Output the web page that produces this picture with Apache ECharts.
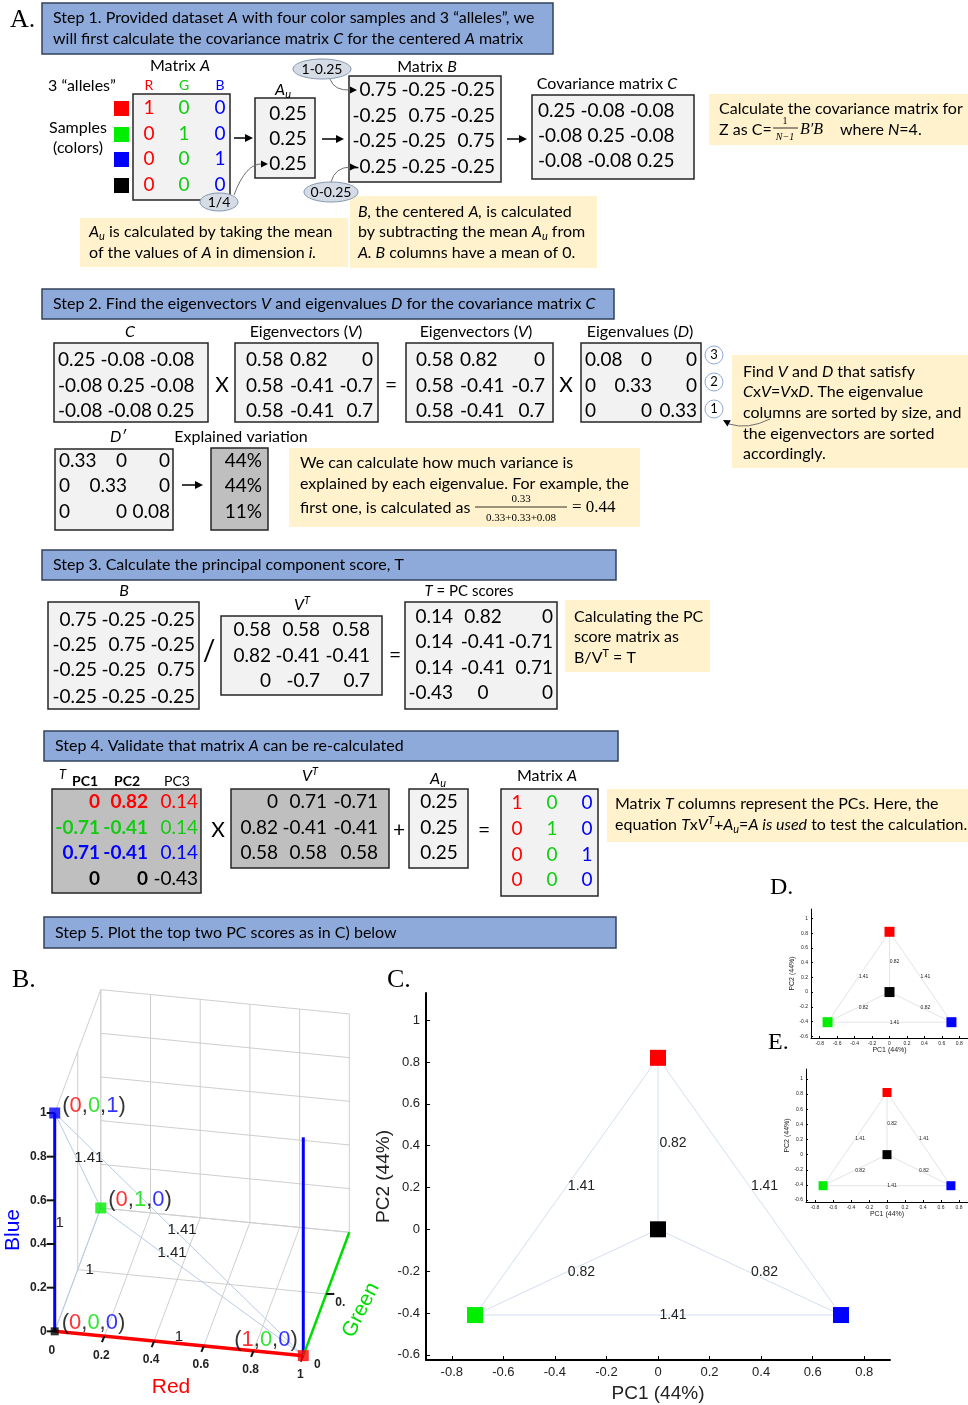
<!DOCTYPE html>
<html><head><meta charset="utf-8">
<script src="https://cdn.jsdelivr.net/npm/echarts@6/dist/echarts.min.js"></script>
<style>html,body{margin:0;padding:0;background:#fff}#c{width:968px;height:1405px}</style>
</head><body><div id="c"></div>
<script>
// ---------------- DATA ----------------
const alleles = ['R','G','B'];
const matrixA = [[1,0,0],[0,1,0],[0,0,1],[0,0,0]];
const meanAu = ['0.25','0.25','0.25'];
const matrixB = [['0.75','-0.25','-0.25'],['-0.25','0.75','-0.25'],['-0.25','-0.25','0.75'],['-0.25','-0.25','-0.25']];
const covC = [['0.25','-0.08','-0.08'],['-0.08','0.25','-0.08'],['-0.08','-0.08','0.25']];
const eigV = [['0.58','0.82','0'],['0.58','-0.41','-0.7'],['0.58','-0.41','0.7']];
const eigD = [['0.08','0','0'],['0','0.33','0'],['0','0','0.33']];
const eigOrder = ['3','2','1'];
const eigDsorted = [['0.33','0','0'],['0','0.33','0'],['0','0','0.08']];
const explained = ['44%','44%','11%'];
const VT = [['0.58','0.58','0.58'],['0.82','-0.41','-0.41'],['0','-0.7','0.7']];
const Tscores = [['0.14','0.82','0'],['0.14','-0.41','-0.71'],['0.14','-0.41','0.71'],['-0.43','0','0']];
const pcNames = ['PC1','PC2','PC3'];
const T4 = [['0','0.82','0.14'],['-0.71','-0.41','0.14'],['0.71','-0.41','0.14'],['0','0','-0.43']];
const VT4 = [['0','0.71','-0.71'],['0.82','-0.41','-0.41'],['0.58','0.58','0.58']];
// PC score plot (C, D, E): samples red, green, blue, black
const pc1 = [0, -0.71, 0.71, 0];
const pc2 = [0.82, -0.41, -0.41, 0];
const edges = [[0,1],[0,2],[1,2],[0,3],[1,3],[2,3]];
const edgeDist = ['1.41','1.41','1.41','0.82','0.82','0.82'];
const xTicks = [-0.8,-0.6,-0.4,-0.2,0,0.2,0.4,0.6,0.8];
const yTicks = [-0.6,-0.4,-0.2,0,0.2,0.4,0.6,0.8,1];
// 3D plot (B): samples are rows of matrixA
const dist3 = ['1.41','1.41','1.41','1','1','1'];
const ticks3 = [0,0.2,0.4,0.6,0.8,1];
const greenTicks = [0,0.5];
const greenTickLabels = ['0','0.'];

// ---------------- STYLE ----------------
const FF = 'Lato, "Noto Sans", sans-serif';
const SANS = '"Liberation Sans", Arial, sans-serif';
const SERIF = '"Liberation Serif", "DejaVu Serif", serif';
const txtCols = ['#ff0000','#12cc12','#0000ff','#000000'];
const ptCols = ['#ff0000','#00ee00','#0000ff','#000000'];
const HDR_FILL = '#8eaadb', HDR_STROKE = '#33415c', YEL = '#fff2cc', BOX = '#f2f2f2', GRAY = '#bfbfbf';

function R(fs, ff){ ff = ff || FF; const lh = fs + 4, s = Math.round(fs*0.68);
  return {
    i:{fontSize:fs,fontFamily:ff,fontStyle:'italic',lineHeight:lh},
    b:{fontSize:fs,fontFamily:ff,fontWeight:'bold',lineHeight:lh},
    sub:{fontSize:s,fontFamily:ff,fontStyle:'italic',verticalAlign:'bottom',lineHeight:s},
    sup:{fontSize:s,fontFamily:ff,fontStyle:'italic',verticalAlign:'top',lineHeight:s},
    supn:{fontSize:s,fontFamily:ff,verticalAlign:'top',lineHeight:s}
  };
}
const G = [];
function rect(x,y,w,h,fill,stroke,lw){ G.push({type:'rect',silent:true,z:1,shape:{x:x,y:y,width:w,height:h},style:{fill:fill,stroke:stroke||null,lineWidth:lw||0}}); }
function T(x,y,text,o){ o = o || {}; const fs = o.fs || 16, ff = o.ff || FF, a = o.a || 'left';
  G.push({type:'text',silent:true,z:10,x:x,y:y,rotation:o.rot||0,style:{text:String(text),fontSize:fs,fontFamily:ff,
    fontStyle:o.st||'normal',fontWeight:o.w||'normal',fill:o.c||'#000',align:a,textAlign:a,
    verticalAlign:'middle',textVerticalAlign:'middle',lineHeight:fs+4,rich:R(fs,ff)}}); }
function L(x1,y1,x2,y2,c,w){ G.push({type:'line',silent:true,z:5,shape:{x1:x1,y1:y1,x2:x2,y2:y2},style:{stroke:c||'#000',lineWidth:w||1.5}}); }
function head(x,y,ang,s){ s = s || 7; const w = s*0.5, c = Math.cos(ang), sn = Math.sin(ang);
  const bx = x - s*c, by = y - s*sn;
  G.push({type:'polygon',silent:true,z:6,shape:{points:[[x,y],[bx - w*sn, by + w*c],[bx + w*sn, by - w*c]]},style:{fill:'#000'}}); }
function arrow(x1,y,x2){ L(x1,y,x2-5,y,'#000',1.5); head(x2,y,0,8); }
function ell(cx,cy,rx,ry,text){ G.push({type:'ellipse',silent:true,z:6,shape:{cx:cx,cy:cy,rx:rx,ry:ry},style:{fill:'#d6dce5',stroke:'#8497b0',lineWidth:1}}); T(cx,cy,text,{fs:14,a:'center'}); }
function curve(x1,y1,cx,cy,x2,y2){ G.push({type:'bezierCurve',silent:true,z:5,shape:{x1:x1,y1:y1,x2:x2,y2:y2,cpx1:cx,cpy1:cy},style:{stroke:'#707070',lineWidth:1,fill:null}}); }
function circ(cx,cy,text){ G.push({type:'circle',silent:true,z:6,shape:{cx:cx,cy:cy,r:9},style:{fill:'#fff',stroke:'#8fa8d8',lineWidth:1}}); T(cx,cy,text,{fs:13,a:'center'}); }
function matrix(vals, colX, colA, rowY, o){ o = o || {};
  vals.forEach((row,r)=>row.forEach((v,c)=>T(colX[c], rowY[r], v, {fs:o.fs||19, a:colA[c], c:o.color?o.color(r,c):'#000', w:o.bold?o.bold(r,c):'normal'}))); }
function header(x,y,w,h,text){ rect(x,y,w,h,HDR_FILL,HDR_STROKE,1.5); T(x+11,y+h/2,text); }

// ---------------- PANEL A : STEP 1 ----------------
T(10,20,'A.',{fs:26,ff:SERIF});
rect(42,3,511,51,HDR_FILL,HDR_STROKE,1.5);
T(53,18,'Step 1. Provided dataset {i|A} with four color samples and 3 “alleles”, we');
T(53,39,'will first calculate the covariance matrix {i|C} for the centered {i|A} matrix');
T(180,66,'Matrix {i|A}',{a:'center'});
T(48,86,'3 “alleles”');
const colA = [149,184,220], rowA = [108,134,159,185];
alleles.forEach((a,i)=>T(colA[i],85,a,{fs:14,a:'center',c:txtCols[i]}));
T(78,128,'Samples',{a:'center'}); T(78,148,'(colors)',{a:'center'});
ptCols.forEach((c,i)=>rect(114,rowA[i]-7,15,15,c));
rect(133,94,97,106,BOX,'#262626',1.5);
matrix(matrixA.map(r=>r.map(String)), colA, ['center','center','center'], rowA, {color:(r,c)=>txtCols[c]});
arrow(234,138,253);
T(283,90,'{i|A}{sub|u}',{a:'center'});
rect(255,98,60,80,BOX,'#262626',1.5);
matrix(meanAu.map(v=>[v]), [288], ['center'], [114,139,164]);
ell(219,202,19,9,'1/4');
curve(234,195,246,163,262,164); head(268,164,0,7);
arrow(322,139,344);
ell(322,69,29,10,'1-0.25');
curve(330,79,334,91,351,90); head(357,90,0,7);
ell(331,192,27,10,'0-0.25');
curve(331,182,335,167,351,167); head(357,167,0,7);
T(427,67,'Matrix {i|B}',{a:'center'});
rect(349,76,152,106,BOX,'#262626',1.5);
matrix(matrixB, [397,446,495], ['right','right','right'], [90,116,141,167]);
arrow(507,139,527);
T(607,84,'Covariance matrix {i|C}',{a:'center'});
rect(532,95,162,84,BOX,'#262626',1.5);
covC.forEach((r,i)=>T(538,[111,136,161][i],r.join(' '),{fs:19}));
rect(709,94,259,51,YEL);
T(719,109,'Calculate the covariance matrix for');
T(719,130,'Z as C=');
T(785,121,'1',{fs:10,ff:SERIF,a:'center'}); L(773,128,798,128,'#000',0.8); T(785,137,'N−1',{fs:10,ff:SERIF,st:'italic',a:'center'});
T(800,130,'B′B',{fs:16,ff:SERIF,st:'italic'});
T(840,130,'where {i|N}=4.');
rect(80,218,268,49,YEL);
T(89,232,'{i|A}{sub|u} is calculated by taking the mean');
T(89,253,'of the values of {i|A} in dimension {i|i.}');
rect(350,196,247,72,YEL);
T(358,212,'{i|B,} the centered {i|A,} is calculated');
T(358,232,'by subtracting the mean {i|A}{sub|u} from');
T(358,253,'{i|A. B} columns have a mean of 0.');

// ---------------- STEP 2 ----------------
header(42,289,572,30,'Step 2. Find the eigenvectors {i|V} and eigenvalues {i|D} for the covariance matrix {i|C}');
const row2 = [360,386,411];
T(130,332,'{i|C}',{a:'center'});
rect(54,343,154,79,BOX,'#262626',1.5);
covC.forEach((r,i)=>T(58,row2[i],r.join(' '),{fs:19}));
T(222,385,'X',{fs:21,a:'center'});
T(306,332,'Eigenvectors ({i|V})',{a:'center'});
rect(235,343,143,79,BOX,'#262626',1.5);
matrix(eigV, [246,290,373], ['left','left','right'], row2);
T(391,385,'=',{fs:21,a:'center'});
T(476,332,'Eigenvectors ({i|V})',{a:'center'});
rect(406,343,147,79,BOX,'#262626',1.5);
matrix(eigV, [416,460,545], ['left','left','right'], row2);
T(566,385,'X',{fs:21,a:'center'});
T(640,332,'Eigenvalues ({i|D})',{a:'center'});
rect(581,343,120,79,BOX,'#262626',1.5);
matrix(eigD, [585,652,697], ['left','right','right'], row2);
eigOrder.forEach((n,i)=>circ(714,[355,382,409][i],n));
rect(732,355,236,113,YEL);
T(743,372,'Find {i|V} and {i|D} that satisfy');
T(743,392,'{i|C}x{i|V}={i|V}x{i|D}. The eigenvalue');
T(743,413,'columns are sorted by size, and');
T(743,434,'the eigenvectors are sorted');
T(743,454,'accordingly.');
curve(770,419,748,430,729,424); head(723,420,Math.PI+0.5,7);
T(118,437,'{i|D′}',{a:'center'});
T(241,437,'Explained variation',{a:'center'});
const row2b = [461,486,512];
rect(55,449,118,81,BOX,'#262626',1.5);
matrix(eigDsorted, [59,127,170], ['left','right','right'], row2b);
arrow(182,485,203);
rect(211,448,57,82,GRAY,'#262626',1.5);
matrix(explained.map(v=>[v]), [262], ['right'], row2b);
rect(289,448,351,79,YEL);
T(300,463,'We can calculate how much variance is');
T(300,484,'explained by each eigenvalue. For example, the');
T(300,508,'first one, is calculated as');
T(521,499,'0.33',{fs:11,ff:SERIF,a:'center'}); L(475,507,567,507,'#000',0.8);
T(521,518,'0.33+0.33+0.08',{fs:11,ff:SERIF,a:'center'});
T(572,508,'= 0.44',{fs:17,ff:SERIF});

// ---------------- STEP 3 ----------------
header(42,550,574,30,'Step 3. Calculate the principal component score, T');
T(124,591,'{i|B}',{a:'center'});
rect(48,602,151,107,BOX,'#262626',1.5);
matrix(matrixB, [97,146,195], ['right','right','right'], [620,645,670,697]);
T(209,651,'/',{fs:28,a:'center'});
T(302,605,'{i|V}{sup|T}',{a:'center'});
rect(221,616,161,79,BOX,'#262626',1.5);
matrix(VT, [271,320,370], ['right','right','right'], [630,656,681]);
T(395,655,'=',{fs:21,a:'center'});
T(469,591,'{i|T} = PC scores',{a:'center',fs:15});
rect(405,602,152,107,BOX,'#262626',1.5);
matrix(Tscores, [453,483,553], ['right','center','right'], [617,642,668,693]);
rect(565,600,145,72,YEL);
T(574,617,'Calculating the PC');
T(574,637,'score matrix as');
T(574,658,'B/V{supn|T} = T');

// ---------------- STEP 4 ----------------
header(44,731,574,30,'Step 4. Validate that matrix {i|A} can be re-calculated');
T(59,775,'{i|T}',{fs:13});
pcNames.forEach((n,i)=>T([85,127,177][i],781,n,{fs:14,a:'center',w:i<2?'bold':'normal'}));
rect(52,789,149,104,GRAY,'#262626',1.5);
matrix(T4, [100,148,198], ['right','right','right'], [802,828,853,879], {color:(r)=>txtCols[r], bold:(r,c)=>c<2?'bold':'normal'});
T(218,830,'X',{fs:21,a:'center'});
T(310,776,'{i|V}{sup|T}',{a:'center'});
rect(231,789,158,79,GRAY,'#262626',1.5);
matrix(VT4, [278,327,378], ['right','right','right'], [802,828,853]);
T(399,830,'+',{fs:21,a:'center'});
T(438,779,'{i|A}{sub|u}',{a:'center'});
rect(409,789,59,79,BOX,'#262626',1.5);
matrix(meanAu.map(v=>[v]), [439], ['center'], [802,828,853]);
T(484,830,'=',{fs:21,a:'center'});
T(547,776,'Matrix {i|A}',{a:'center'});
rect(501,789,97,107,BOX,'#262626',1.5);
matrix(matrixA.map(r=>r.map(String)), [517,552,587], ['center','center','center'], [803,829,855,880], {color:(r,c)=>txtCols[c]});
rect(607,789,361,53,YEL);
T(615,804,'Matrix {i|T} columns represent the PCs. Here, the');
T(615,825,'equation {i|T}x{i|V}{sup|T}+{i|A}{sub|u}={i|A is used} to test the calculation.');

// ---------------- STEP 5 ----------------
header(44,917,572,31,'Step 5. Plot the top two PC scores as in C) below');

// panel letters
T(12,980,'B.',{fs:26,ff:SERIF});
T(387,980,'C.',{fs:26,ff:SERIF});
T(770,888,'D.',{fs:24,ff:SERIF});
T(768,1043,'E.',{fs:24,ff:SERIF});
// 3D axis titles
T(171,1387,'Red',{fs:21,ff:SANS,c:'#ff0000',a:'center'});
T(13,1230,'Blue',{fs:21,ff:SANS,c:'#0000ff',a:'center',rot:Math.PI/2});
T(361,1310,'Green',{fs:21,ff:SANS,c:'#00dd00',a:'center',rot:1.1});

// ---------------- CHART OPTION ----------------
const xAxis = [], yAxis = [], series = [];
function pcPlot(gi, cfg){
  xAxis.push({type:'value',gridIndex:gi,min:-0.9,max:0.9,name:'PC1 (44%)',nameLocation:'middle',nameGap:cfg.xGap,
    nameTextStyle:{fontSize:cfg.nameFs,fontFamily:SANS,color:'#222'},
    axisLine:{onZero:false,lineStyle:{color:'#000',width:cfg.lw}},
    axisTick:{inside:true,length:cfg.tl,customValues:xTicks,lineStyle:{color:'#000',width:1}},
    axisLabel:{customValues:xTicks,fontSize:cfg.fs,fontFamily:SANS,color:'#222',margin:cfg.m},
    splitLine:{show:false}});
  yAxis.push({type:'value',gridIndex:gi,min:-0.625,max:1.13,name:'PC2 (44%)',nameLocation:'middle',nameGap:cfg.yGap,
    nameTextStyle:{fontSize:cfg.nameFs,fontFamily:SANS,color:'#222'},
    axisLine:{onZero:false,lineStyle:{color:'#000',width:cfg.lw}},
    axisTick:{inside:true,length:cfg.tl,customValues:yTicks,lineStyle:{color:'#000',width:1}},
    axisLabel:{customValues:yTicks,fontSize:cfg.fs,fontFamily:SANS,color:'#222',margin:cfg.m},
    splitLine:{show:false}});
  series.push({type:'custom',xAxisIndex:gi,yAxisIndex:gi,z:2,silent:true,
    data:edges.map(e=>[pc1[e[0]],pc2[e[0]],pc1[e[1]],pc2[e[1]]]),
    renderItem:(params,api)=>{
      const a = api.coord([api.value(0),api.value(1)]), b = api.coord([api.value(2),api.value(3)]);
      return {type:'group',children:[
        {type:'line',shape:{x1:a[0],y1:a[1],x2:b[0],y2:b[1]},style:{stroke:cfg.ec,lineWidth:1}},
        {type:'text',x:(a[0]+b[0])/2+cfg.lo,y:(a[1]+b[1])/2,style:{text:edgeDist[params.dataIndex],fontSize:cfg.lfs,fontFamily:SANS,fill:'#222',align:'center',verticalAlign:'middle'}}
      ]};
    }});
  series.push({type:'scatter',xAxisIndex:gi,yAxisIndex:gi,z:4,silent:true,symbol:'rect',symbolSize:cfg.ss,
    data:pc1.map((v,i)=>({value:[v,pc2[i]],itemStyle:{color:ptCols[i],opacity:1}}))});
}
pcPlot(0,{xGap:24,yGap:30,nameFs:19,lw:2,tl:4,fs:13,m:6,ec:'#d3dff0',lo:15,lfs:14,ss:16});
pcPlot(1,{xGap:8,yGap:9,nameFs:7,lw:1,tl:2,fs:5,m:3,ec:'#e4e4e4',lo:5,lfs:5,ss:10});
pcPlot(2,{xGap:7,yGap:12,nameFs:7,lw:1,tl:2,fs:5,m:3,ec:'#e4e4e4',lo:5,lfs:5,ss:9});

// --- panel B: oblique 3D projection onto a hidden cartesian grid ---
const KX = 0.1853, KZX = -0.1113, KZY = 0.565;
function P(p){ return [p[0] + KX*p[1], p[2] + KZX*p[0] + KZY*p[1]]; }
xAxis.push({type:'value',gridIndex:3,min:-0.2,max:1.2,show:false});
yAxis.push({type:'value',gridIndex:3,min:-0.2,max:1.6,show:false});
const gridSegs = [];
ticks3.forEach(t=>{
  gridSegs.push({p:[t,1,0,t,1,1],c:'#cfcfcf',w:1});
  gridSegs.push({p:[0,1,t,1,1,t],c:'#cfcfcf',w:1});
  gridSegs.push({p:[t,0,0,t,1,0],c:'#cfcfcf',w:1});
});
[0.5,1].forEach(t=>{ gridSegs.push({p:[0,t,0,1,t,0],c:'#cfcfcf',w:1}); gridSegs.push({p:[0,t,0,0,t,1],c:'#cfcfcf',w:1}); });
gridSegs.push({p:[0,0,1,0,1,1],c:'#cfcfcf',w:1});
const axisSegs = [
  {p:[0,0,0,1,0,0],c:'#ff0000',w:3.5},
  {p:[0,0,0,0,0,1],c:'#0000ff',w:3},
  {p:[1,0,0,1,0,1],c:'#0000ff',w:3},
  {p:[1,0,0,1,1,0],c:'#00dd00',w:2.5}
];
function segSeries(list, z){
  return {type:'custom',xAxisIndex:3,yAxisIndex:3,z:z,silent:true,data:list.map(s=>s.p),
    renderItem:(params,api)=>{
      const s = list[params.dataIndex];
      const a = api.coord(P(s.p.slice(0,3))), b = api.coord(P(s.p.slice(3,6)));
      return {type:'line',shape:{x1:a[0],y1:a[1],x2:b[0],y2:b[1]},style:{stroke:s.c,lineWidth:s.w}};
    }};
}
series.push(segSeries(gridSegs,1));
const bLabelOff = [[-30,-29],[3,-4],[11,-3],[0,-7],[12,0],[5,1]];
series.push({type:'custom',xAxisIndex:3,yAxisIndex:3,z:3,silent:true,
  data:edges.map(e=>matrixA[e[0]].concat(matrixA[e[1]])),
  renderItem:(params,api)=>{
    const e = edges[params.dataIndex], off = bLabelOff[params.dataIndex];
    const a = api.coord(P(matrixA[e[0]])), b = api.coord(P(matrixA[e[1]]));
    return {type:'group',children:[
      {type:'line',shape:{x1:a[0],y1:a[1],x2:b[0],y2:b[1]},style:{stroke:'#b8cbe6',lineWidth:1}},
      {type:'text',x:(a[0]+b[0])/2+off[0],y:(a[1]+b[1])/2+off[1],style:{text:dist3[params.dataIndex],fontSize:15,fontFamily:SANS,fill:'#222',align:'center',verticalAlign:'middle'}}
    ]};
  }});
series.push(segSeries(axisSegs,4));
// red axis ticks
series.push({type:'custom',xAxisIndex:3,yAxisIndex:3,z:5,silent:true,data:ticks3.map(t=>[t,0]),
  renderItem:(params,api)=>{
    const t = ticks3[params.dataIndex], p = api.coord(P([t,0,0]));
    const ch = [{type:'text',x:p[0]-3,y:p[1]+19,style:{text:String(t),fontSize:12,fontWeight:'bold',fontFamily:SANS,fill:'#222',align:'center',verticalAlign:'middle'}}];
    if (t > 0) ch.push({type:'line',shape:{x1:p[0],y1:p[1],x2:p[0]-2.5,y2:p[1]+6},style:{stroke:'#111',lineWidth:2}});
    return {type:'group',children:ch};
  }});
// blue axis ticks
series.push({type:'custom',xAxisIndex:3,yAxisIndex:3,z:5,silent:true,data:ticks3.map(t=>[0,t]),
  renderItem:(params,api)=>{
    const t = ticks3[params.dataIndex], p = api.coord(P([0,0,t]));
    return {type:'group',children:[
      {type:'line',shape:{x1:p[0]-8,y1:p[1],x2:p[0],y2:p[1]},style:{stroke:'#111',lineWidth:2}},
      {type:'text',x:p[0]-8,y:p[1],style:{text:String(t),fontSize:12,fontWeight:'bold',fontFamily:SANS,fill:'#222',align:'right',verticalAlign:'middle'}}
    ]};
  }});
// green axis ticks
series.push({type:'custom',xAxisIndex:3,yAxisIndex:3,z:5,silent:true,data:greenTicks.map(t=>[1,t]),
  renderItem:(params,api)=>{
    const t = greenTicks[params.dataIndex], p = api.coord(P([1,t,0]));
    const ch = [{type:'text',x:p[0]+14,y:p[1]+9,style:{text:greenTickLabels[params.dataIndex],fontSize:12,fontWeight:'bold',fontFamily:SANS,fill:'#222',align:'center',verticalAlign:'middle'}}];
    if (t > 0) ch.push({type:'line',shape:{x1:p[0],y1:p[1],x2:p[0]+8,y2:p[1]},style:{stroke:'#111',lineWidth:2}});
    return {type:'group',children:ch};
  }});
const bLabelPos = [
  {position:'left',distance:0,offset:[0,-16]},
  {position:'right',distance:2,offset:[0,-8]},
  {position:'right',distance:2,offset:[0,-7]},
  {position:'right',distance:3,offset:[0,-8]}
];
const bRich = {k:{color:'#000',fontSize:22,fontFamily:SANS},r:{color:'#ff0000',fontSize:22,fontFamily:SANS},
  g:{color:'#00dd00',fontSize:22,fontFamily:SANS},b:{color:'#0000ff',fontSize:22,fontFamily:SANS}};
series.push({type:'scatter',xAxisIndex:3,yAxisIndex:3,z:6,silent:true,symbol:'rect',
  data:matrixA.map((p,i)=>({value:P(p),symbolSize:i===3?8:11,itemStyle:{color:ptCols[i]},
    label:Object.assign({show:true,rich:bRich,
      formatter:(q)=>{const v = matrixA[q.dataIndex]; return '{k|(}{r|'+v[0]+'}{k|,}{g|'+v[1]+'}{k|,}{b|'+v[2]+'}{k|)}';}},bLabelPos[i])}))});

const option = {
  animation:false,
  backgroundColor:'#fff',
  graphic:{elements:G},
  grid:[
    {left:426,top:993,width:464,height:367},
    {left:811,top:909,width:165,height:129},
    {left:806,top:1069,width:170,height:133},
    {left:5,top:982,width:348,height:393}
  ],
  xAxis:xAxis, yAxis:yAxis, series:series
};
const chart = echarts.init(document.getElementById('c'), null, {renderer:'canvas',width:968,height:1405});
chart.setOption(option);
</script></body></html>
